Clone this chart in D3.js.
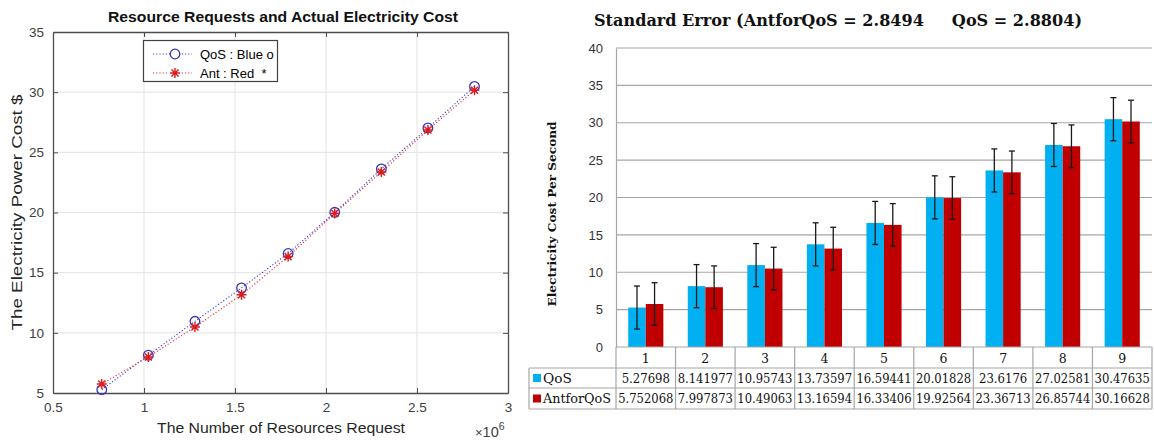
<!DOCTYPE html>
<html><head><meta charset="utf-8">
<script src="https://cdn.jsdelivr.net/npm/d3@7"></script>
<style>body{margin:0;background:#fff}svg{display:block}</style>
</head><body>
<svg id="c" width="1154" height="441"></svg>
<script>
// ---------- DATA ----------
const categories = ["1","2","3","4","5","6","7","8","9"];
const resourceRequests = [0.768, 1.024, 1.28, 1.536, 1.792, 2.048, 2.304, 2.56, 2.816]; // x 10^6
const qosValues = [5.27698, 8.141977, 10.95743, 13.73597, 16.59441, 20.01828, 23.6176, 27.02581, 30.47635];
const antValues = [5.752068, 7.997873, 10.49063, 13.16594, 16.33406, 19.92564, 23.36713, 26.85744, 30.16628];
const qosLabels = ["5.27698","8.141977","10.95743","13.73597","16.59441","20.01828","23.6176","27.02581","30.47635"];
const antLabels = ["5.752068","7.997873","10.49063","13.16594","16.33406","19.92564","23.36713","26.85744","30.16628"];
const seriesNames = ["QoS", "AntforQoS"];
const standardErrors = [2.8804, 2.8494];
const leftXTicks = [0.5, 1, 1.5, 2, 2.5, 3];
const leftXTickLabels = ["0.5","1","1.5","2","2.5","3"];
const leftYTicks = [5, 10, 15, 20, 25, 30, 35];
const rightYTicks = [0, 5, 10, 15, 20, 25, 30, 35, 40];
const legendLabels = ["QoS : Blue o", "Ant : Red  *"];

const svg = d3.select("#c");
const sans = "'Liberation Sans', Arial, sans-serif";
const serif = "'DejaVu Serif', serif";

// ---------- LEFT CHART ----------
const L = {left: 53, right: 508, top: 32, bottom: 393};
const lx = d3.scaleLinear().domain([0.5, 3]).range([L.left, L.right]);
const ly = d3.scaleLinear().domain([5, 35]).range([L.bottom, L.top]);
const lg = svg.append("g");

// grid
lg.selectAll(".gx").data(leftXTicks.slice(1, -1)).join("line")
  .attr("x1", d => lx(d)).attr("x2", d => lx(d)).attr("y1", L.top).attr("y2", L.bottom)
  .attr("stroke", "#e3e3e3").attr("stroke-width", 1);
lg.selectAll(".gy").data(leftYTicks.slice(1, -1)).join("line")
  .attr("x1", L.left).attr("x2", L.right).attr("y1", d => ly(d)).attr("y2", d => ly(d))
  .attr("stroke", "#e3e3e3").attr("stroke-width", 1);

function styleAxis(g) {
  g.select(".domain").attr("stroke", "#4d4d4d").attr("stroke-width", 1.3);
  g.selectAll(".tick line").attr("stroke", "#4d4d4d");
  g.selectAll(".tick text").attr("fill", "#404040").attr("font-family", sans).attr("font-size", 13.5);
}
lg.append("g").attr("transform", `translate(0,${L.bottom})`)
  .call(d3.axisBottom(lx).tickValues(leftXTicks).tickFormat((d, i) => leftXTickLabels[i]).tickSizeInner(-5).tickSizeOuter(0).tickPadding(9))
  .call(styleAxis);
lg.append("g").attr("transform", `translate(0,${L.top})`)
  .call(d3.axisTop(lx).tickValues(leftXTicks).tickFormat("").tickSizeInner(-5).tickSizeOuter(0))
  .call(styleAxis);
lg.append("g").attr("transform", `translate(${L.left},0)`)
  .call(d3.axisLeft(ly).tickValues(leftYTicks).tickSizeInner(-5).tickSizeOuter(0).tickPadding(9))
  .call(styleAxis);
lg.append("g").attr("transform", `translate(${L.right},0)`)
  .call(d3.axisRight(ly).tickValues(leftYTicks).tickFormat("").tickSizeInner(-5).tickSizeOuter(0))
  .call(styleAxis);

// lines
const qosPts = resourceRequests.map((x, i) => [x, qosValues[i]]);
const antPts = resourceRequests.map((x, i) => [x, antValues[i]]);
const line = d3.line().x(d => lx(d[0])).y(d => ly(d[1]));
lg.append("path").attr("d", line(qosPts)).attr("fill", "none").attr("stroke", "#3d3dd6")
  .attr("stroke-width", 1.1).attr("stroke-dasharray", "1.2,2");
lg.append("path").attr("d", line(antPts)).attr("fill", "none").attr("stroke", "#e03030")
  .attr("stroke-width", 1.1).attr("stroke-dasharray", "1.2,2");

function asterisk(cx, cy, r) {
  const d = r * 0.7071;
  return `M${cx - r},${cy}H${cx + r}M${cx},${cy - r}V${cy + r}M${cx - d},${cy - d}L${cx + d},${cy + d}M${cx - d},${cy + d}L${cx + d},${cy - d}`;
}
lg.selectAll(".qm").data(qosPts).join("circle")
  .attr("cx", d => lx(d[0])).attr("cy", d => ly(d[1])).attr("r", 4.8)
  .attr("fill", "none").attr("stroke", "#3535b8").attr("stroke-width", 1.3);
lg.selectAll(".am").data(antPts).join("path")
  .attr("d", d => asterisk(lx(d[0]), ly(d[1]), 5))
  .attr("fill", "none").attr("stroke", "#e01a1a").attr("stroke-width", 1.4);

// legend
lg.append("rect").attr("x", 143.5).attr("y", 40.5).attr("width", 134).attr("height", 41)
  .attr("fill", "#fff").attr("stroke", "#404040").attr("stroke-width", 1.2);
const legRows = [
  {y: 54, color: "#3d3dd6", mark: "o"},
  {y: 73, color: "#e03030", mark: "*"}
];
legRows.forEach((r, i) => {
  lg.append("line").attr("x1", 153).attr("x2", 192).attr("y1", r.y).attr("y2", r.y)
    .attr("stroke", r.color).attr("stroke-width", 1.1).attr("stroke-dasharray", "1.2,2");
  if (r.mark === "o") {
    lg.append("circle").attr("cx", 175).attr("cy", r.y).attr("r", 4.8).attr("fill", "#fff")
      .attr("stroke", "#3535b8").attr("stroke-width", 1.3);
  } else {
    lg.append("rect").attr("x", 169).attr("y", r.y - 6).attr("width", 12).attr("height", 12).attr("fill", "#fff");
    lg.append("path").attr("d", asterisk(175, r.y, 5)).attr("stroke", "#e01a1a").attr("stroke-width", 1.4);
  }
  lg.append("text").attr("x", 200).attr("y", r.y).attr("dy", "0.36em")
    .attr("font-family", sans).attr("font-size", 13).attr("fill", "#000")
    .attr("xml:space", "preserve").text(legendLabels[i]);
});

// titles
lg.append("text").attr("x", 283).attr("y", 22).attr("text-anchor", "middle")
  .attr("font-family", sans).attr("font-weight", "bold").attr("font-size", 14.5).attr("fill", "#111")
  .attr("textLength", 350).attr("lengthAdjust", "spacingAndGlyphs")
  .text("Resource Requests and Actual Electricity Cost");
lg.append("text").attr("x", 281).attr("y", 433).attr("text-anchor", "middle")
  .attr("font-family", sans).attr("font-size", 15).attr("fill", "#262626")
  .attr("textLength", 248).attr("lengthAdjust", "spacingAndGlyphs")
  .text("The Number of Resources Request");
const ex = lg.append("text").attr("x", 475).attr("y", 437)
  .attr("font-family", sans).attr("font-size", 13).attr("fill", "#404040");
ex.append("tspan").text("\u00d7");
ex.append("tspan").attr("font-size", 14.5).text("10");
ex.append("tspan").attr("font-size", 10.5).attr("dy", -7).text("6");
lg.append("text").attr("transform", `translate(22,${(L.top + L.bottom) / 2}) rotate(-90)`)
  .attr("text-anchor", "middle").attr("font-family", sans).attr("font-size", 15).attr("fill", "#262626")
  .attr("textLength", 236).attr("lengthAdjust", "spacingAndGlyphs")
  .text("The Electricity Power Cost $");

// ---------- RIGHT CHART ----------
const R = {left: 616, right: 1152, top: 48, bottom: 347};
const rx = d3.scaleBand().domain(categories).range([R.left, R.right]).paddingInner(0.41).paddingOuter(0.205);
const rx1 = d3.scaleBand().domain(seriesNames).range([0, rx.bandwidth()]);
const ry = d3.scaleLinear().domain([0, 40]).range([R.bottom, R.top]);
const rg = svg.append("g");
const colors = ["#00b0f0", "#c00000"];

rg.selectAll(".rgy").data(rightYTicks.slice(1)).join("line")
  .attr("x1", R.left).attr("x2", R.right).attr("y1", d => ry(d)).attr("y2", d => ry(d))
  .attr("stroke", "#a6a6a6").attr("stroke-width", 1.2);
const yAx = rg.append("g").attr("transform", `translate(${R.left},0)`)
  .call(d3.axisLeft(ry).tickValues(rightYTicks).tickSize(0).tickPadding(13));
yAx.select(".domain").attr("stroke", "#a6a6a6").attr("stroke-width", 1.2);
yAx.selectAll(".tick text").attr("font-family", sans).attr("font-size", 13).attr("fill", "#333");

const seriesVals = [qosValues, antValues];
seriesNames.forEach((s, si) => {
  const vals = seriesVals[si];
  rg.selectAll(".bar" + si).data(categories).join("rect")
    .attr("x", d => rx(d) + rx1(s)).attr("width", rx1.bandwidth())
    .attr("y", (d, i) => ry(vals[i])).attr("height", (d, i) => ry(0) - ry(vals[i]))
    .attr("fill", colors[si]);
});
seriesNames.forEach((s, si) => {
  const vals = seriesVals[si];
  const se = standardErrors[si];
  const g = rg.append("g").attr("stroke", "#1a1a1a").attr("stroke-width", 1.3);
  categories.forEach((c, i) => {
    const cx = rx(c) + rx1(s) + rx1.bandwidth() / 2;
    const y1 = ry(vals[i] + se), y2 = ry(vals[i] - se);
    g.append("line").attr("x1", cx).attr("x2", cx).attr("y1", y1).attr("y2", y2);
    g.append("line").attr("x1", cx - 3).attr("x2", cx + 3).attr("y1", y1).attr("y2", y1);
    g.append("line").attr("x1", cx - 3).attr("x2", cx + 3).attr("y1", y2).attr("y2", y2);
  });
});

// data table
const rowTop = [347, 368, 388], rowBot = [368, 388, 409];
const tLeft = 529;
const tb = rg.append("g");
const gridColor = "#a6a6a6";
tb.append("line").attr("x1", R.left).attr("x2", R.right).attr("y1", 347).attr("y2", 347).attr("stroke", gridColor).attr("stroke-width", 1.2);
[368, 388, 409].forEach(y => tb.append("line").attr("x1", tLeft).attr("x2", R.right)
  .attr("y1", y).attr("y2", y).attr("stroke", gridColor).attr("stroke-width", 1.2));
const colEdges = categories.map(c => rx(c) - rx.step() * rx.paddingInner() / 2);
colEdges.push(R.right);
colEdges.forEach(x => tb.append("line").attr("x1", x).attr("x2", x).attr("y1", 347).attr("y2", 409)
  .attr("stroke", gridColor).attr("stroke-width", 1.2));
tb.append("line").attr("x1", tLeft).attr("x2", tLeft).attr("y1", 368).attr("y2", 409).attr("stroke", gridColor).attr("stroke-width", 1.2);

const cellText = (x, y, t) => tb.append("text").attr("x", x).attr("y", y).attr("dy", "0.36em")
  .attr("text-anchor", "middle").attr("font-family", serif).attr("font-size", 12.5)
  .attr("fill", "#111").text(t);
categories.forEach(c => cellText(rx(c) + rx.bandwidth() / 2, 358, c));
const rowLabels = [qosLabels, antLabels];
seriesNames.forEach((s, si) => {
  const yc = (rowTop[si + 1] + rowBot[si + 1]) / 2;
  tb.append("rect").attr("x", 533).attr("y", yc - 4).attr("width", 8).attr("height", 8).attr("fill", colors[si]);
  tb.append("text").attr("x", 543).attr("y", yc).attr("dy", "0.36em")
    .attr("font-family", serif).attr("font-size", 13).attr("fill", "#111").text(s)
    .attr("textLength", s === "QoS" ? 29 : 68).attr("lengthAdjust", "spacingAndGlyphs");
  categories.forEach((c, i) => {
    const t = cellText(rx(c) + rx.bandwidth() / 2, yc, rowLabels[si][i]);
    t.attr("textLength", rowLabels[si][i].length * 6.9).attr("lengthAdjust", "spacingAndGlyphs");
  });
});

// titles
rg.append("text").attr("x", 838).attr("y", 26).attr("text-anchor", "middle")
  .attr("font-family", serif).attr("font-weight", "bold").attr("font-size", 17).attr("fill", "#111")
  .attr("xml:space", "preserve")
  .attr("textLength", 488).attr("lengthAdjust", "spacingAndGlyphs")
  .text("Standard Error (AntforQoS = 2.8494     QoS = 2.8804)");
rg.append("text").attr("transform", `translate(556,214) rotate(-90)`)
  .attr("text-anchor", "middle").attr("font-family", serif).attr("font-weight", "bold")
  .attr("font-size", 11.5).attr("fill", "#111")
  .attr("textLength", 185).attr("lengthAdjust", "spacingAndGlyphs")
  .text("Electricity Cost Per Second");
</script>
</body></html>
